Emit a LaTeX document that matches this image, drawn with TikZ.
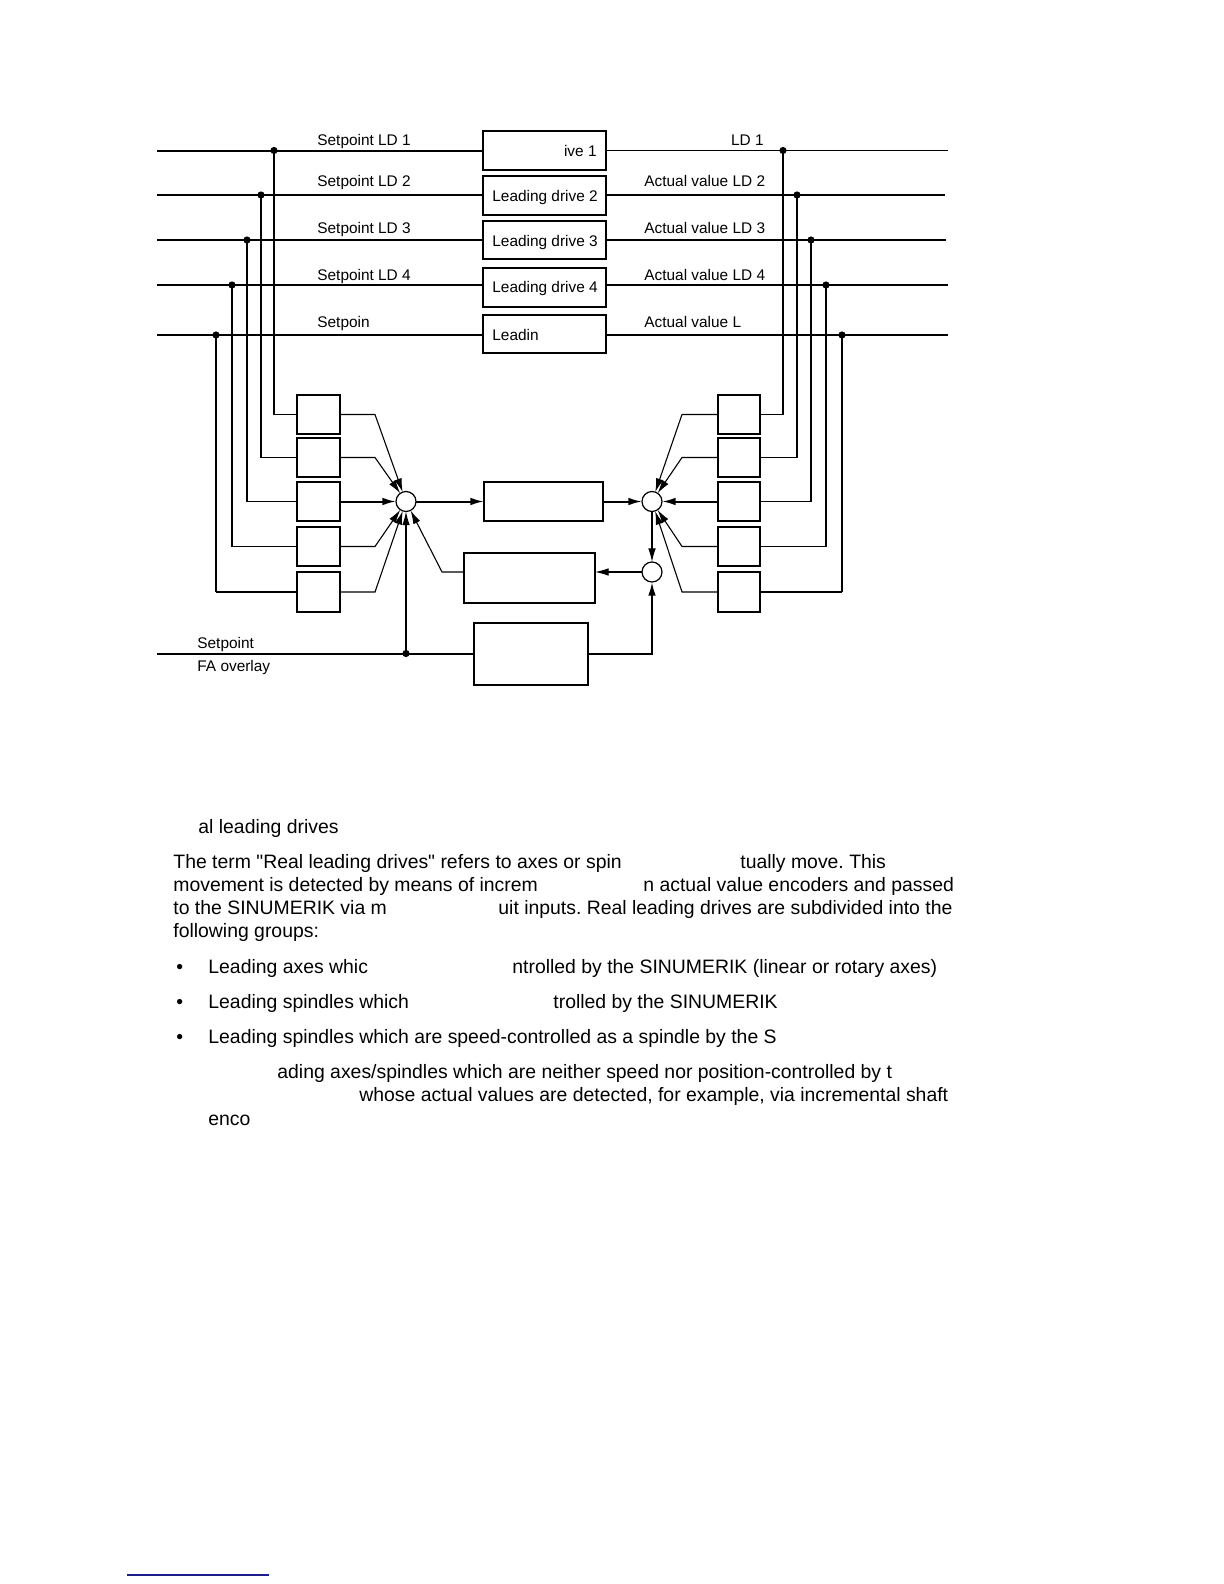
\documentclass[tikz,border=0pt]{standalone}
\usepackage{fontspec}
\setmainfont{Liberation Sans}[Ligatures=TeXOff]
\usetikzlibrary{arrows.meta}
\definecolor{footblue}{RGB}{28,28,140}
\frenchspacing
\begin{document}
\begin{tikzpicture}[x=0.5pt,y=-0.5pt,
  thinline/.style={line width=0.55pt},
  thickline/.style={line width=1pt},
  blk/.style={draw,line width=1pt,inner sep=0pt,outer sep=0pt},
  sumc/.style={draw,circle,line width=0.6pt,minimum size=10pt,inner sep=0pt,outer sep=0pt},
  arr/.style={-{Latex[length=6.8pt,width=3.8pt]}},
  dotc/.style={circle,fill,inner sep=0pt,minimum size=3.6pt},
  lbl/.style={inner sep=0pt,anchor=base west,font=\fontsize{7.7}{9}\selectfont},
  lblr/.style={lbl,anchor=base east},
  boxtxt/.style={inner sep=0pt,anchor=base west,font=\fontsize{7.7}{9}\selectfont},
  boxtxtr/.style={boxtxt,anchor=base east},
  body/.style={inner sep=0pt,anchor=base west,font=\fontsize{9.7}{11.6}\selectfont},
]
\useasboundingbox (0,0) rectangle (1224,1584);

% ---------- leading drive boxes ----------
\node[blk,minimum width=61.5pt,minimum height=19.5pt] (B1) at (544.5,150.5) {};
\node[blk,minimum width=61.5pt,minimum height=19.5pt] (B2) at (544.5,195.5) {};
\node[blk,minimum width=61.5pt,minimum height=19pt] (B3) at (544.5,240) {};
\node[blk,minimum width=61.5pt,minimum height=19.5pt] (B4) at (544.5,287.5) {};
\node[blk,minimum width=61.5pt,minimum height=19pt] (B5) at (544.5,334) {};

\node[boxtxtr] (t1) at (597,156) {ive 1};
\node[boxtxt] (t2) at (492,201) {Leading drive 2};
\node[boxtxt] (t3) at (492,246) {Leading drive 3};
\node[boxtxt] (t4) at (492,292.7) {Leading drive 4};
\node[boxtxt] (t5) at (492,340) {Leadin};

% ---------- small boxes ----------
\foreach \n/\y/\h in {1/414.5/19.5,2/457.5/19.5,3/501.5/19.5,4/546.5/19.5,5/592/20}{
  \node[blk,minimum width=21.5pt,minimum height=\h pt] (L\n) at (318.5,\y) {};
  \node[blk,minimum width=21pt,minimum height=\h pt] (R\n) at (739,\y) {};
}

% ---------- middle ----------
\node[sumc] (CL) at (406,501.5) {};
\node[sumc] (CR) at (652,501.5) {};
\node[sumc] (CD) at (652,572) {};
\node[blk,minimum width=59.5pt,minimum height=19.5pt] (M1) at (543.5,501.5) {};
\node[blk,minimum width=65.5pt,minimum height=25pt] (M2) at (529.5,578) {};
\node[blk,minimum width=57pt,minimum height=31pt] (M3) at (531,653.5) {};

% ---------- line ends ----------
\coordinate (sl1) at (157,150.5);
\coordinate (sl2) at (157,195);
\coordinate (sl3) at (157,240);
\coordinate (sl4) at (157,285);
\coordinate (sl5) at (157,335);
\coordinate (el1) at (948,150.5);
\coordinate (el2) at (945,195);
\coordinate (el3) at (946,240);
\coordinate (el4) at (948,285);
\coordinate (el5) at (948,335);

\draw[thickline] (sl1) -- (sl1 -| B1.west);
\draw[thinline] (sl2) -- (sl2 -| B2.west);
\draw[thinline] (sl3) -- (sl3 -| B3.west);
\draw[thinline] (sl4) -- (sl4 -| B4.west);
\draw[thickline] (sl5) -- (sl5 -| B5.west);
\foreach \n in {1,...,5}{ \draw[thinline] (el\n -| B\n.east) -- (el\n); }

% ---------- junctions ----------
\coordinate (J1) at (274,150.5);
\coordinate (J2) at (261,195);
\coordinate (J3) at (247,240);
\coordinate (J4) at (232,285);
\coordinate (J5) at (216,335);
\coordinate (K1) at (783,150.5);
\coordinate (K2) at (797,195);
\coordinate (K3) at (811,240);
\coordinate (K4) at (826,285);
\coordinate (K5) at (842,335);

\draw[thinline] (J1) |- (L1.west);
\draw[thickline] (J2) -- (J2 |- L2.west);
\draw[thinline] (J2 |- L2.west) -- (L2.west);
\draw[thinline] (J3) |- (L3.west);
\draw[thinline] (J4) |- (L4.west);
\draw[thinline] (J5) -- (J5 |- L5.west);
\draw[thickline] (J5 |- L5.west) -- (L5.west);

\draw[thinline] (K1) |- (R1.east);
\draw[thickline] (K2) -- (K2 |- R2.east);
\draw[thinline] (K2 |- R2.east) -- (R2.east);
\draw[thinline] (K3) |- (R3.east);
\draw[thinline] (K4) |- (R4.east);
\draw[thinline] (K5) -- (K5 |- R5.east);
\draw[thickline] (K5 |- R5.east) -- (R5.east);

\foreach \p in {J1,J2,J3,J4,J5,K1,K2,K3,K4,K5}{ \node[dotc] at (\p) {}; }

% ---------- feeds into summing points ----------
\coordinate (bl) at (375,0);
\coordinate (br) at (682,0);
\foreach \n in {1,2,4,5}{
  \draw[thinline,arr] (L\n.east) -- (L\n.east -| bl) -- (CL);
  \draw[thinline,arr] (R\n.west) -- (R\n.west -| br) -- (CR);
}
\draw[thickline,arr] (L3.east) -- (CL);
\draw[thickline,arr] (R3.west) -- (CR);

\draw[thickline,arr] (CL) -- (M1);
\draw[thickline,arr] (M1) -- (CR);
\draw[thinline,arr] (CR) -- (CD);
\draw[thinline,arr] (CD) -- (CD -| M2.east);
\coordinate (m2k) at (442,572);
\draw[thinline,arr] (M2.west |- CD) -- (m2k) -- (CL);

\coordinate (fa) at (157,653.5);
\coordinate (F) at (406,653.5);
\draw[thickline] (fa) -- (fa -| M3.west);
\draw[thinline,arr] (F) -- (CL);
\node[dotc] (Fd) at (F) {};
\draw[thickline,arr] (M3.east) -- (M3.east -| CD) -- (CD);

% ---------- labels ----------
\node[lbl] (ls1) at (317,145.7) {Setpoint LD 1};
\node[lbl] (ls2) at (317,186.7) {Setpoint LD 2};
\node[lbl] (ls3) at (317,233.3) {Setpoint LD 3};
\node[lbl] (ls4) at (317,280.7) {Setpoint LD 4};
\node[lbl] (ls5) at (317,327.3) {Setpoin};
\node[lblr] (la1) at (764,145.7) {LD 1};
\node[lbl] (la2) at (644,186.7) {Actual value LD 2};
\node[lbl] (la3) at (644,233.3) {Actual value LD 3};
\node[lbl] (la4) at (644,280.7) {Actual value LD 4};
\node[lbl] (la5) at (644,327.3) {Actual value L};
\node[lbl] (lfa1) at (197,648) {Setpoint};
\node[lbl] (lfa2) at (197,671) {FA overlay};

% ---------- body text ----------
\node[body] (h1) at (198,833) {al leading drives};
\node[body] (p1a) at (173,868) {The term "Real leading drives" refers to axes or spin};
\node[body] (p1b) at (740,868) {tually move. This};
\node[body] (p2a) at (173,891) {movement is detected by means of increm};
\node[body] (p2b) at (643,891) {n actual value encoders and passed};
\node[body] (p3a) at (173,914.3) {to the SINUMERIK via m};
\node[body] (p3b) at (498,914.3) {uit inputs. Real leading drives are subdivided into the};
\node[body] (p4) at (173,937.7) {following groups:};
\node[body] (b1) at (176,973.3) {•};
\node[body] (b1a) at (208,973.3) {Leading axes whic};
\node[body] (b1b) at (512,973.3) {ntrolled by the SINUMERIK (linear or rotary axes)};
\node[body] (b2) at (176,1008.3) {•};
\node[body] (b2a) at (208,1008.3) {Leading spindles which};
\node[body] (b2b) at (553,1008.3) {trolled by the SINUMERIK};
\node[body] (b3) at (176,1043.3) {•};
\node[body] (b3a) at (208,1043.3) {Leading spindles which are speed-controlled as a spindle by the S};
\node[body] (q1) at (277,1078.3) {ading axes/spindles which are neither speed nor position-controlled by t};
\node[body] (q2) at (359,1101.7) {whose actual values are detected, for example, via incremental shaft};
\node[body] (q3) at (208,1125) {enco};

% ---------- footnote rule ----------
\coordinate (fr1) at (127,1575);
\coordinate (fr2) at (269,1575);
\draw[line width=0.7pt,footblue] (fr1) -- (fr2);
\end{tikzpicture}
\end{document}
